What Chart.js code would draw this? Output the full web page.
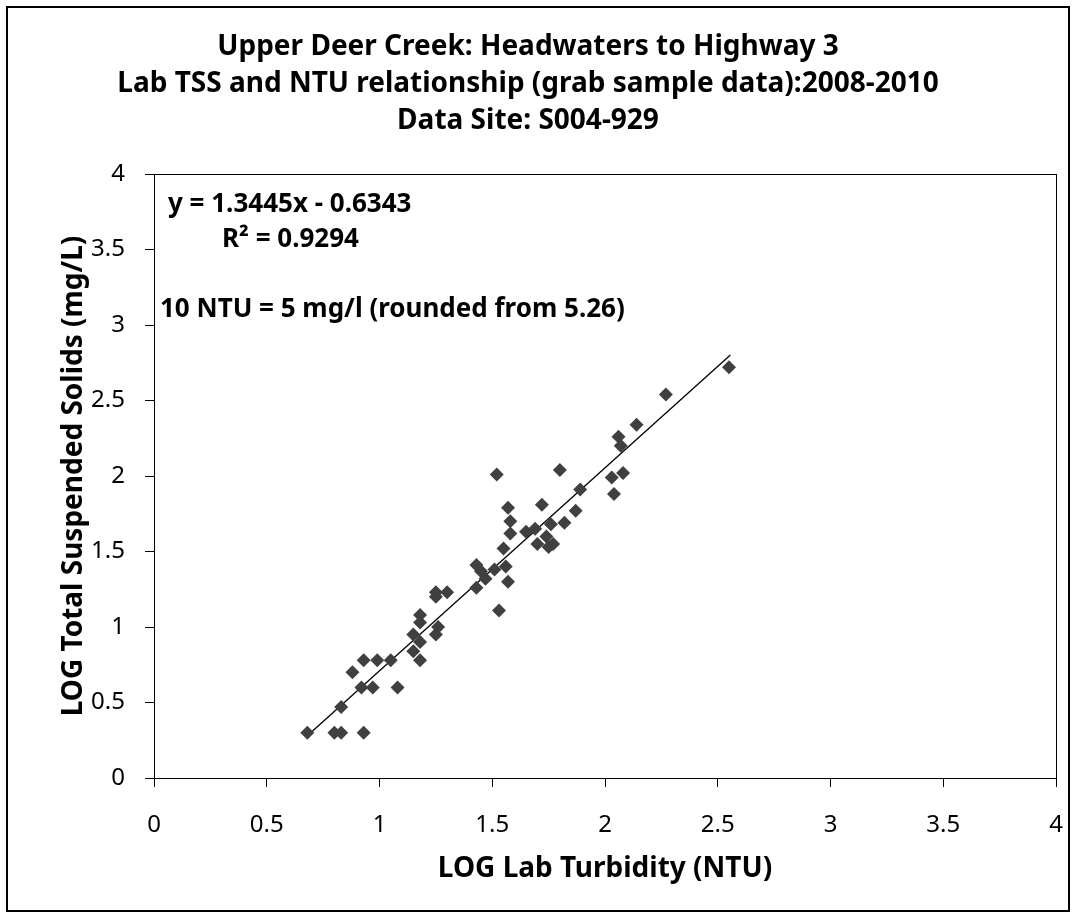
<!DOCTYPE html>
<html>
<head>
<meta charset="utf-8">
<script src="https://cdn.jsdelivr.net/npm/chart.js@4/dist/chart.umd.min.js"></script>
<style>
  html, body { margin: 0; padding: 0; background: #fff; }
  canvas { display: block; }
</style>
</head>
<body>
<canvas id="myChart" width="1076" height="918"></canvas>
<script>
/* globals Chart:false */

// log lab turbidity (NTU)
const logNtu = [
  0.68, 0.80, 0.83, 0.93, 0.83, 0.88, 0.92, 0.97, 1.08, 0.93,
  0.99, 1.05, 1.15, 1.18, 1.15, 1.18, 1.26, 1.25, 1.18, 1.18,
  1.25, 1.25, 1.30, 1.43, 1.43, 1.45, 1.47, 1.51, 1.56, 1.57,
  1.53, 1.55, 1.58, 1.58, 1.57, 1.72, 1.65, 1.69, 1.76, 1.70,
  1.74, 1.75, 1.77, 1.82, 1.87, 1.52, 1.80, 2.14, 2.06, 2.07,
  2.08, 2.03, 2.04, 1.89, 2.27, 2.55
]

// log total suspended solids (mg/L)
const logTss = [
  0.30, 0.30, 0.30, 0.30, 0.47, 0.70, 0.60, 0.60, 0.60, 0.78,
  0.78, 0.78, 0.84, 0.78, 0.95, 0.90, 1.00, 0.95, 1.08, 1.03,
  1.23, 1.20, 1.23, 1.26, 1.41, 1.37, 1.32, 1.38, 1.40, 1.30,
  1.11, 1.52, 1.62, 1.70, 1.79, 1.81, 1.63, 1.65, 1.68, 1.55,
  1.60, 1.53, 1.55, 1.69, 1.77, 2.01, 2.04, 2.34, 2.26, 2.20,
  2.02, 1.99, 1.88, 1.91, 2.54, 2.72
]

// linear trendline ends (y = 1.3445x - 0.6343)
const trendX = [0.68, 2.556]
const trendY = [0.280, 2.802]

const axisTicks = [0, 0.5, 1, 1.5, 2, 2.5, 3, 3.5, 4]

const titleLines = [
  'Upper Deer Creek: Headwaters to Highway 3',
  'Lab TSS and NTU relationship (grab sample data):2008-2010',
  'Data Site: S004-929'
]
const notes = [
  'y = 1.3445x - 0.6343',
  'R² = 0.9294',
  '10 NTU = 5 mg/l (rounded from 5.26)'
]

const FONT = '"Noto Sans", "DejaVu Sans", sans-serif'

const points = logNtu.map((x, i) => ({ x, y: logTss[i] }))
const trend = trendX.map((x, i) => ({ x, y: trendY[i] }))

const frame = {
  id: 'frame',
  beforeDraw (chart) {
    const { ctx } = chart
    ctx.save()
    ctx.strokeStyle = '#000'
    ctx.lineWidth = 2
    ctx.strokeRect(7, 7, 1062, 904)
    ctx.restore()
  },
  afterDatasetsDraw (chart) {
    const { ctx, chartArea: a } = chart
    ctx.save()
    ctx.strokeStyle = '#000'
    ctx.lineWidth = 1
    ctx.strokeRect(a.left + 0.5, a.top + 0.5, a.right - a.left, a.bottom - a.top)

    // equation and notes
    ctx.fillStyle = '#000'
    ctx.font = 'bold 26px ' + FONT
    ctx.textBaseline = 'middle'
    ctx.textAlign = 'left'
    ctx.fillText(notes[0], a.left + 14, a.top + 31)
    ctx.fillText(notes[1], a.left + 68, a.top + 66)
    ctx.fillText(notes[2], a.left + 6, a.top + 136)
    ctx.restore()
  }
}

const ctx = document.getElementById('myChart')
// eslint-disable-next-line no-unused-vars
const myChart = new Chart(ctx, {
  type: 'scatter',
  data: {
    datasets: [{
      label: 'TSS vs NTU',
      data: points,
      pointStyle: 'rectRot',
      pointRadius: 7,
      pointHoverRadius: 7,
      backgroundColor: '#404040',
      borderColor: '#404040',
      borderWidth: 0
    }, {
      type: 'line',
      label: 'Linear trend',
      data: trend,
      borderColor: '#000',
      borderWidth: 1.3,
      pointRadius: 0,
      fill: false
    }]
  },
  options: {
    responsive: false,
    animation: false,
    devicePixelRatio: 1,
    layout: { padding: { left: 0, right: 20, top: 0, bottom: 0 } },
    plugins: {
      legend: { display: false },
      tooltip: { enabled: false },
      title: {
        display: true,
        text: titleLines,
        color: '#000',
        font: { family: FONT, size: 28, weight: 'bold', lineHeight: 37 / 28 },
        padding: { top: 28.5, bottom: 34.5 }
      }
    },
    scales: {
      x: {
        type: 'linear',
        min: 0,
        max: 4,
        afterFit (scale) {
          scale.height = 140
          scale.paddingLeft = 0
          scale.paddingRight = 0
        },
        afterBuildTicks (scale) { scale.ticks = axisTicks.map(v => ({ value: v })) },
        grid: { display: true, drawOnChartArea: false, drawTicks: true, tickLength: 9, color: '#000' },
        border: { display: true, color: '#000', width: 1 },
        ticks: {
          color: '#000',
          font: { family: FONT, size: 24 },
          padding: 24,
          maxRotation: 0,
          callback: v => String(v)
        },
        title: {
          display: true,
          text: 'LOG Lab Turbidity (NTU)',
          color: '#000',
          font: { family: FONT, size: 28, weight: 'bold' },
          padding: { top: 0, bottom: 32 }
        }
      },
      y: {
        type: 'linear',
        min: 0,
        max: 4,
        afterFit (scale) {
          scale.width = 154
          scale.paddingTop = 0
          scale.paddingBottom = 0
        },
        afterBuildTicks (scale) { scale.ticks = axisTicks.map(v => ({ value: v })) },
        grid: { display: true, drawOnChartArea: false, drawTicks: true, tickLength: 9, color: '#000' },
        border: { display: true, color: '#000', width: 1 },
        ticks: {
          color: '#000',
          font: { family: FONT, size: 24 },
          padding: 20,
          callback: v => String(v)
        },
        title: {
          display: true,
          text: 'LOG Total Suspended Solids (mg/L)',
          color: '#000',
          font: { family: FONT, size: 28, weight: 'bold' },
          padding: { top: 57, bottom: 0 }
        }
      }
    }
  },
  plugins: [frame]
})
</script>
</body>
</html>
